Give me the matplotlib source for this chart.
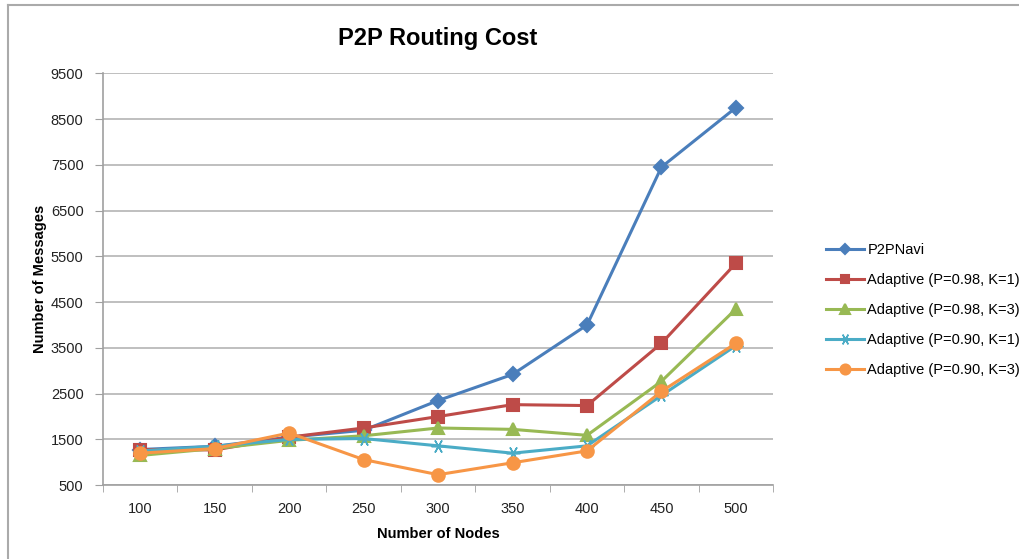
import matplotlib
matplotlib.use('Agg')
from matplotlib import pyplot as plt
from matplotlib.lines import Line2D

plt.rcParams['font.family'] = ['Liberation Sans', 'DejaVu Sans']

nodes = [100, 150, 200, 250, 300, 350, 400, 450, 500]
p2pnavi = [1280, 1350, 1550, 1700, 2350, 2920, 4000, 7450, 8750]
adaptive_98_k1 = [1280, 1270, 1550, 1750, 2000, 2260, 2240, 3600, 5350]
adaptive_98_k3 = [1150, 1300, 1480, 1580, 1750, 1720, 1590, 2770, 4350]
adaptive_90_k1 = [1250, 1350, 1500, 1520, 1360, 1200, 1360, 2460, 3550]
adaptive_90_k3 = [1200, 1300, 1640, 1060, 730, 990, 1250, 2550, 3600]
yticks = list(range(500, 10000, 1000))

series = [
    ('P2PNavi', p2pnavi, '#4A7EBB', 'D', 7, 1.5),
    ('Adaptive (P=0.98, K=1)', adaptive_98_k1, '#BE4B48', 's', 8, 1.5),
    ('Adaptive (P=0.98, K=3)', adaptive_98_k3, '#98B954', '^', 9, 1.5),
    ('Adaptive (P=0.90, K=1)', adaptive_90_k1, '#4BACC6', (6, 2, 90), 10, 1.1),
    ('Adaptive (P=0.90, K=3)', adaptive_90_k3, '#F79646', 'o', 9, 1.5),
]

fig = plt.figure(figsize=(10.2, 5.59), dpi=100)
ax = fig.add_axes([0.101, 0.132, 0.657, 0.737])

pos = list(range(len(nodes)))
for name, vals, color, marker, ms, mew in series:
    ax.plot(pos, vals, color=color, lw=2.2, marker=marker, ms=ms,
            mec=color, mfc=color, mew=mew, label=name)

ax.set_xlim(-0.5, len(nodes) - 0.5)
ax.set_ylim(500, 9500)
ax.set_yticks(yticks)
ax.set_xticks(pos)
ax.set_xticklabels([str(n) for n in nodes])
ax.set_xticks([p + 0.5 for p in pos[:-1]] + [-0.5, len(nodes) - 0.5], minor=True)
ax.tick_params(axis='x', which='major', length=0, pad=12, labelsize=10.5, colors='#222222')
ax.tick_params(axis='x', which='minor', length=5, color='#A0A0A0', direction='out')
ax.tick_params(axis='y', length=6, color='#A0A0A0', pad=8, labelsize=10.5, labelcolor='#222222')

ax.grid(axis='y', color='#B4B4B4', lw=1.2)
ax.set_axisbelow(True)
for side in ['top', 'right']:
    ax.spines[side].set_visible(False)
for side in ['left', 'bottom']:
    ax.spines[side].set_color('#A0A0A0')
    ax.spines[side].set_linewidth(1.2)

ax.set_title('P2P Routing Cost', fontsize=17, fontweight='bold', pad=20)
ax.set_xlabel('Number of Nodes', fontsize=10.5, fontweight='bold', labelpad=8)
ax.set_ylabel('Number of Messages', fontsize=10.5, fontweight='bold', labelpad=3)

ax.legend(loc='center left', bbox_to_anchor=(1.06, 0.425), frameon=False,
          fontsize=10.5, handlelength=2.6, handletextpad=0.2, labelspacing=1.1,
          markerscale=0.8)

# chart frame lines
fig.add_artist(Line2D([8 / 1020, 1], [1 - 5 / 559, 1 - 5 / 559], color='#AAAAAA', lw=1.5))
fig.add_artist(Line2D([8 / 1020, 8 / 1020], [0, 1 - 5 / 559], color='#AAAAAA', lw=1.5))

fig.savefig('out.png', dpi=100)
plt.close(fig)
